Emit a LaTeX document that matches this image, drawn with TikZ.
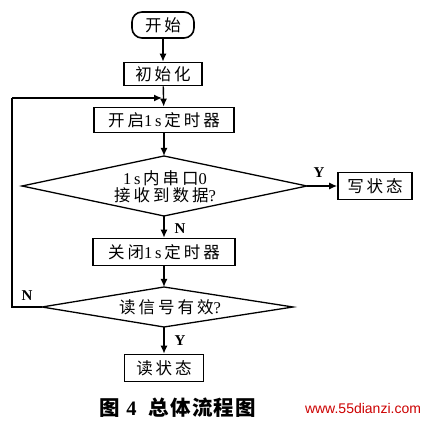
\documentclass[tikz,border=0pt]{standalone}
\usepackage{fontspec}
\setmainfont{Liberation Serif}
\newfontfamily\cjk[LetterSpace=18]{Noto Sans CJK SC}
\newfontfamily\cjkcap[LetterSpace=6]{Noto Sans CJK SC}
\newfontfamily\wm{Liberation Sans}
\usetikzlibrary{arrows.meta}
\tikzset{
  box/.style={draw,line width=1.6pt,inner sep=0pt,font=\fontsize{16.5}{19}\selectfont},
  term/.style={draw,line width=1.6pt,rounded corners=10pt,inner sep=0pt,font=\fontsize{16.5}{19}\selectfont},
  dec/.style={line width=1.3pt},
  dtext/.style={inner sep=0pt,font=\fontsize{16.5}{19}\selectfont,align=center},
  arr/.style={line width=1.4pt,-{Latex[length=8pt,width=7pt]}},
  lbl/.style={font=\fontsize{15}{15}\selectfont\bfseries,inner sep=0pt},
}
\begin{document}
\begin{tikzpicture}[x=1pt,y=-1pt]
\useasboundingbox (0,0) rectangle (432,430);
\node[term,minimum width=62,minimum height=26] (start) at (163,25) {\cjk 开始};
\node[box,minimum width=78,minimum height=23] (init) at (163,74) {\cjk 初始化};
\node[box,minimum width=140,minimum height=25] (open) at (164,120) {{\cjk 开启}1\,s\,{\cjk 定时器}};
% decision 1
\coordinate (d1n) at (164,156);
\coordinate (d1s) at (164,216);
\coordinate (d1w) at (22,186);
\coordinate (d1e) at (307,186);
\draw[dec] (d1n) -- (d1e) -- (d1s) -- (d1w) -- cycle;
\node[dtext] (d1) at (165,187) {1\,s\,{\cjk 内串口}0\\[-2pt]{\cjk 接收到数据}?};
\node[box,minimum width=74,minimum height=27] (write) at (375,186) {\cjk 写状态};
\node[box,minimum width=142,minimum height=27] (close) at (164,252) {{\cjk 关闭}1\,s\,{\cjk 定时器}};
% decision 2
\coordinate (d2n) at (164,287);
\coordinate (d2s) at (164,327);
\coordinate (d2w) at (42,307);
\coordinate (d2e) at (293,307);
\draw[dec] (d2n) -- (d2e) -- (d2s) -- (d2w) -- cycle;
\node[dtext] (d2) at (170,307) {{\cjk 读信号有效}?};
\node[box,minimum width=79,minimum height=27] (read) at (164,368) {\cjk 读状态};
\coordinate (lb) at (12,307);
\coordinate (lt) at (12,98);
\coordinate (lend) at (162,98);
\draw[arr] (start) -- (init);
\draw[arr] (init) -- (open);
\draw[arr] (open) -- (d1n);
\draw[arr] (d1e) -- (write);
\draw[arr] (d1s) -- (close);
\draw[arr] (close) -- (d2n);
\draw[arr] (d2s) -- (read);
\draw[line width=1.4pt] (d2w) -- (lb) -- (lt);
\draw[arr] (lt) -- (lend);
\node[lbl] (ly) at (319,173) {Y};
\node[lbl] (ln) at (180,229) {N};
\node[lbl] (ly2) at (180,341) {Y};
\node[lbl] (ln2) at (27,296) {N};
\node[font=\fontsize{20.5}{22}\selectfont\bfseries,inner sep=0pt] (cap) at (178,408) {{\cjkcap 图}\hspace{6pt}4\hspace{12pt}{\cjkcap 总体流程图}};
\node[font=\wm\fontsize{14}{14}\selectfont,text=red!80!black,inner sep=0pt] (mark) at (363,408) {www.55dianzi.com};
\end{tikzpicture}
\end{document}
